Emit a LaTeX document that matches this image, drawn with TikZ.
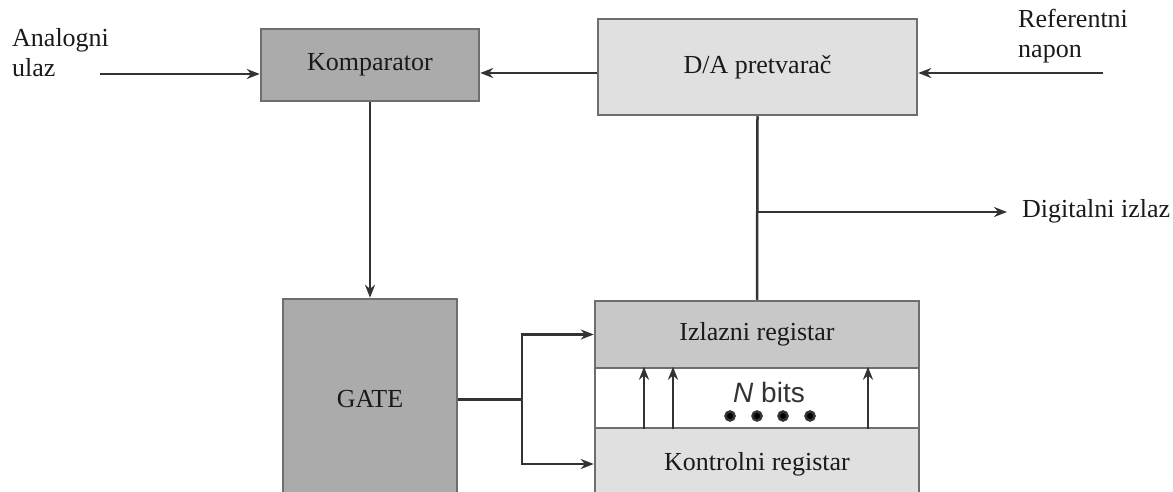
\documentclass[tikz,border=0pt]{standalone}
\usepackage{fontspec}
\setmainfont{Liberation Serif}
\setsansfont{Liberation Sans}
\usetikzlibrary{arrows.meta}
\definecolor{boxline}{HTML}{6E6E6E}
\definecolor{darkfill}{HTML}{ABABAB}
\definecolor{midfill}{HTML}{C8C8C8}
\definecolor{lightfill}{HTML}{E0E0E0}
\definecolor{wire}{HTML}{333333}
\definecolor{ink}{HTML}{1A1A1A}

\begin{document}
\begin{tikzpicture}[x=1pt,y=-1pt,>={Stealth[length=13pt,width=10pt]}]
    \tikzstyle{block}=[draw=boxline,line width=2.5pt,rectangle,inner sep=0pt,text=ink,font=\fontsize{26}{30}\selectfont];
    \tikzstyle{lbl}=[inner sep=0pt,align=left,text=ink,font=\fontsize{26}{30}\selectfont];
    \tikzstyle{wire}=[draw=wire,line width=2.5pt];
    \useasboundingbox (0,0) rectangle (1173,492);
    \clip (0,0) rectangle (1173,492);

    \node at (370,65)    (komp)    [block,fill=darkfill,minimum width=218pt,minimum height=72pt] {Komparator};
    \node at (757.5,67)  (da)      [block,fill=lightfill,minimum width=319pt,minimum height=96pt] {D/A pretvarač};
    \node at (370,399.5) (gate)    [block,fill=darkfill,minimum width=174pt,minimum height=201pt] {GATE};
    \node at (757,334.5) (outreg)  [block,fill=midfill,minimum width=324pt,minimum height=67pt] {Izlazni registar};
    \node at (757,398)   (bits)    [block,fill=white,minimum width=324pt,minimum height=60pt] {};
    \node at (757,464)   (ctrlreg) [block,fill=lightfill,minimum width=324pt,minimum height=72pt] {Kontrolni registar};

    \node at (12,28)     (ainlbl)  [lbl,anchor=north west] {Analogni\\ulaz};
    \node at (1018,9)    (reflbl)  [lbl,anchor=north west] {Referentni\\napon};
    \node at (1022,217)  (doutlbl) [lbl,anchor=base west] {Digitalni izlaz};
    \node at (769,392)   (nbits)   [inner sep=0pt,text=wire,font=\sffamily\fontsize{28}{30}\selectfont] {\textit{N} bits};

    \coordinate (ain)   at (100,74);
    \coordinate (vref)  at (1103,73);
    \coordinate (tap)   at (da.south |- 0,212);
    \coordinate (dout)  at (1007,212);
    \coordinate (split) at (gate.east -| 522,0);

    \draw[wire,->] (ain) to (ain -| komp.west);
    \draw[wire,->] (vref) to (vref -| da.east);
    \draw[wire,->] (vref -| da.west) to (vref -| komp.east);
    \draw[wire,->] (komp.south) to (gate.north);
    \draw[wire] (da.south) to (outreg.north);
    \draw[wire,->] (tap) to (dout);
    \draw[wire] (gate.east) to (split);
    \draw[wire,->] (split) |- (outreg.west);
    \draw[wire,->] (split) |- (ctrlreg.west);
    \foreach \bx in {644,673,868}
      \draw[wire,->] (bits.south -| \bx,0) to (bits.north -| \bx,0);
    \foreach \dx in {730,757,783,810}
      \fill[wire] (\dx,416) circle (4.5pt);
\end{tikzpicture}
\end{document}
